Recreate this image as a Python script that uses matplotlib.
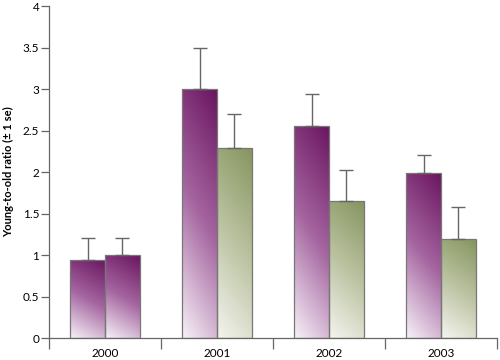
import numpy as np
import matplotlib
matplotlib.use("Agg")
import matplotlib.pyplot as plt
from matplotlib.colors import LinearSegmentedColormap
from matplotlib.ticker import FormatStrFormatter, FixedLocator

years = ["2000", "2001", "2002", "2003"]
young = [0.94, 3.0, 2.56, 1.99]
young_se = [0.26, 0.5, 0.38, 0.22]
old = [1.0, 2.29, 1.65, 1.19]
old_se = [0.2, 0.41, 0.37, 0.39]

plt.rcParams['font.family'] = ['Lato', 'DejaVu Sans']

purple = LinearSegmentedColormap.from_list("p", ["#f7f2f8", "#a565a0", "#6a1560"])
green = LinearSegmentedColormap.from_list("g", ["#f4f5ef", "#bcc3a2", "#86955f"])

fig = plt.figure(figsize=(5, 3.6), dpi=100)
ax = fig.add_axes([0.098, 0.061, 0.896, 0.922])

x = np.arange(len(years))
w = 0.31

# diagonal gradient: dark top-right, light bottom-left
gy, gx = np.mgrid[0:1:200j, 0:1:40j]
grad = 0.8 * gy + 0.2 * gx


def gradient_bar(xc, h, cmap):
    bar = ax.bar(xc, h, w, facecolor="none", edgecolor="#777777", linewidth=0.9, zorder=3)[0]
    im = ax.imshow(grad, cmap=cmap, origin="lower", aspect="auto",
                   extent=[xc - w / 2, xc + w / 2, 0, h], zorder=2, vmin=0, vmax=1)
    im.set_clip_path(bar)


for i in range(len(years)):
    gradient_bar(x[i] - w / 2, young[i], purple)
    gradient_bar(x[i] + w / 2, old[i], purple if i == 0 else green)

ax.errorbar(x - w / 2, young, yerr=[np.zeros(4), young_se], fmt="none",
            ecolor="#666666", elinewidth=1, capsize=5, capthick=1, zorder=4)
ax.errorbar(x + w / 2, old, yerr=[np.zeros(4), old_se], fmt="none",
            ecolor="#666666", elinewidth=1, capsize=5, capthick=1, zorder=4)

ax.set_xlim(-0.5, 3.5)
ax.set_ylim(0, 4)
ax.set_yticks(np.arange(0, 4.01, 0.5))
ax.yaxis.set_major_formatter(FormatStrFormatter("%g"))
ax.set_xticks(x)
ax.set_xticklabels(years)
ax.xaxis.set_minor_locator(FixedLocator([-0.5, 0.5, 1.5, 2.5, 3.5]))
ax.tick_params(axis="x", which="major", length=0, labelsize=8.5, pad=7)
ax.tick_params(axis="x", which="minor", length=8, color="#666666", width=0.9)
ax.tick_params(axis="y", length=6, color="#666666", width=0.9, labelsize=8.5, pad=1)

for s in ["top", "right"]:
    ax.spines[s].set_visible(False)
for s in ["left", "bottom"]:
    ax.spines[s].set_color("#666666")
    ax.spines[s].set_linewidth(0.9)

ax.set_ylabel("Young-to-old ratio (± 1 se)", fontsize=8, fontweight="bold", labelpad=6)

fig.savefig("out.png", dpi=100)
